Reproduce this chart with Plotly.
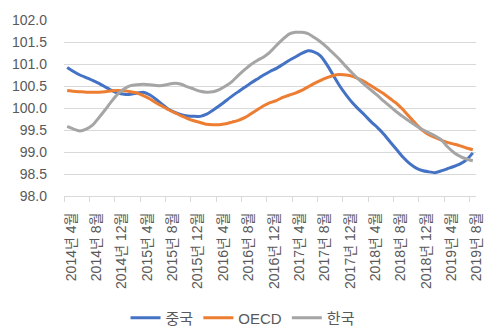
import plotly.graph_objects as go

months = [f"{y}년 {m}월" for y in range(2014, 2020) for m in range(1, 13)]
months = months[3:3 + 65]  # 2014년 4월 .. 2019년 8월

china = [100.92, 100.83, 100.75, 100.69, 100.63, 100.56, 100.48, 100.40, 100.34, 100.31,
         100.31, 100.34, 100.36, 100.30, 100.20, 100.08, 99.97, 99.90, 99.85, 99.82,
         99.81, 99.81, 99.86, 99.95, 100.05, 100.16, 100.27, 100.37, 100.47, 100.57,
         100.66, 100.75, 100.83, 100.90, 100.99, 101.08, 101.16, 101.24, 101.30, 101.27,
         101.18, 100.98, 100.74, 100.50, 100.30, 100.12, 99.97, 99.83, 99.68, 99.55,
         99.40, 99.22, 99.05, 98.88, 98.74, 98.64, 98.58, 98.55, 98.53, 98.57,
         98.62, 98.67, 98.73, 98.82, 98.98]

oecd = [100.40, 100.38, 100.37, 100.36, 100.36, 100.36, 100.37, 100.39, 100.40, 100.39,
        100.37, 100.34, 100.28, 100.21, 100.12, 100.04, 99.96, 99.89, 99.82, 99.76,
        99.71, 99.67, 99.63, 99.62, 99.62, 99.64, 99.68, 99.72, 99.78, 99.87,
        99.96, 100.05, 100.12, 100.17, 100.24, 100.29, 100.34, 100.40, 100.48, 100.56,
        100.63, 100.69, 100.74, 100.76, 100.75, 100.72, 100.66, 100.59, 100.50, 100.41,
        100.32, 100.21, 100.10, 99.96, 99.80, 99.64, 99.50, 99.40, 99.33, 99.27,
        99.22, 99.18, 99.14, 99.09, 99.05]

korea = [99.58, 99.52, 99.48, 99.52, 99.61, 99.78, 99.96, 100.15, 100.32, 100.44,
         100.51, 100.53, 100.54, 100.53, 100.51, 100.51, 100.54, 100.56, 100.54, 100.48,
         100.43, 100.38, 100.36, 100.37, 100.42, 100.50, 100.60, 100.74, 100.87, 100.99,
         101.08, 101.16, 101.27, 101.42, 101.56, 101.68, 101.72, 101.72, 101.69, 101.60,
         101.50, 101.38, 101.24, 101.10, 100.94, 100.79, 100.65, 100.52, 100.40, 100.28,
         100.15, 100.03, 99.91, 99.80, 99.70, 99.60, 99.51, 99.44, 99.37, 99.28,
         99.12, 98.99, 98.90, 98.84, 98.80]

series_names = ["중국", "OECD", "한국"]
colors = ["#4472C4", "#ED7D31", "#A5A5A5"]

FONT = "Liberation Sans, Noto Sans CJK KR, sans-serif"
x = list(range(len(months)))
label_idx = list(range(0, len(months), 4))

fig = go.Figure()
for name, vals, c in zip(series_names, [china, oecd, korea], colors):
    fig.add_trace(go.Scatter(x=x, y=vals, name=name, mode="lines",
                             line=dict(color=c, width=3, shape="spline", smoothing=0.5)))

# invisible trace on overlay axis for tick marks at category boundaries
fig.add_trace(go.Scatter(x=[x[0], x[-1]], y=[98, 98], xaxis="x2", mode="lines",
                         line=dict(width=0), showlegend=False, hoverinfo="skip"))

fig.update_layout(
    width=496, height=330,
    margin=dict(l=64, r=14, t=13, b=134),
    paper_bgcolor="white", plot_bgcolor="white",
    font=dict(family=FONT, size=14, color="#595959"),
    showlegend=True,
    legend=dict(orientation="h", xref="container", yref="container",
                x=0.49, xanchor="center", y=0.036, yanchor="middle",
                font=dict(size=15, color="#595959"), itemwidth=30,
                tracegroupgap=0),
    xaxis=dict(range=[-0.5, len(months) - 0.5], tickmode="array",
               tickvals=label_idx, ticktext=[months[i] for i in label_idx],
               tickangle=-90, showgrid=False, zeroline=False,
               showline=True, linecolor="#d9d9d9", linewidth=1,
               ticks="", ticklabelstandoff=10, ticklabelshift=4,
               tickfont=dict(size=14, color="#595959")),
    xaxis2=dict(overlaying="x", range=[-0.5, len(months) - 0.5], tickmode="array",
                tickvals=[i - 0.5 for i in label_idx], showticklabels=False,
                ticks="outside", ticklen=5, tickcolor="#d9d9d9", tickwidth=1,
                showgrid=False, zeroline=False, side="bottom", showline=False),
    yaxis=dict(range=[98, 102], dtick=0.5, tickformat=".1f",
               showgrid=True, gridcolor="#d9d9d9", gridwidth=1, zeroline=False,
               ticks="", tickfont=dict(size=14, color="#595959"),
               ticklabelstandoff=16),
)

fig.write_html("out.html")
